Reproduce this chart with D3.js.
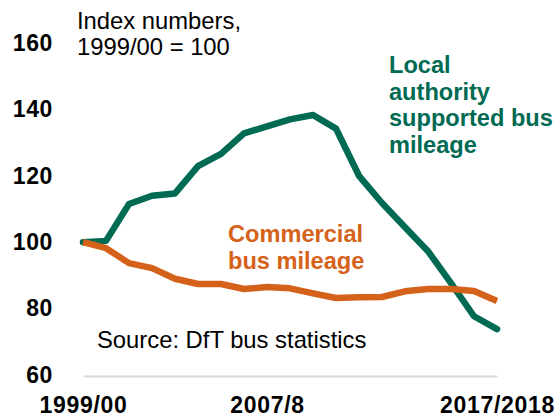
<!DOCTYPE html>
<html>
<head>
<meta charset="utf-8">
<script src="https://cdn.jsdelivr.net/npm/d3@7"></script>
<style>
  body { margin: 0; background: #fff; }
  text { font-family: "Liberation Sans", Arial, sans-serif; }
</style>
</head>
<body>
<svg id="chart" width="557" height="418"></svg>
<script>
// financial years 1999/00 .. 2017/18
var years = ["1999/00", "2000/01", "2001/02", "2002/03", "2003/04", "2004/05", "2005/06",
  "2006/07", "2007/08", "2008/09", "2009/10", "2010/11", "2011/12", "2012/13",
  "2013/14", "2014/15", "2015/16", "2016/17", "2017/18"];

var localSupported = [100, 100.4, 111.5, 114, 114.7, 122.9, 126.6, 132.8, 134.9, 137, 138.3,
  134.2, 120, 111.8, 104.5, 97.3, 87.7, 77.7, 73.8];
var commercial = [100, 98.2, 93.7, 92.2, 89, 87.4, 87.4, 85.9, 86.5, 86.1, 84.6,
  83.2, 83.4, 83.5, 85.2, 85.9, 85.9, 85.3, 82.3];

var yTicks = [60, 80, 100, 120, 140, 160];
var xTickYears = ["1999/00", "2007/08", "2017/18"];
var xTickLabels = ["1999/00", "2007/8", "2017/2018"];

var svg = d3.select("#chart");

var x = d3.scalePoint().domain(years).range([83, 497]);
var y = d3.scaleLinear().domain([60, 160]).range([375, 43]);

// y axis - labels only
var yAxis = svg.append("g")
    .attr("transform", "translate(53,0)")
    .call(d3.axisLeft(y).tickValues(yTicks).tickSize(0).tickPadding(0));
yAxis.select(".domain").remove();
yAxis.selectAll("text")
    .attr("font-size", 23).attr("font-weight", "bold")
    .attr("letter-spacing", 0.6)
    .attr("fill", "#000");

// x axis - grey baseline plus three labels
var xAxis = svg.append("g")
    .attr("transform", "translate(0,376)")
    .call(d3.axisBottom(x).tickValues(xTickYears).tickSize(0).tickSizeOuter(0).tickPadding(21)
      .tickFormat(function (d) { return xTickLabels[xTickYears.indexOf(d)]; }));
xAxis.select(".domain").attr("stroke", "#d9d9d9").attr("stroke-width", 2);
xAxis.selectAll("text")
    .attr("font-size", 23).attr("font-weight", "bold")
    .attr("letter-spacing", 0.7)
    .attr("fill", "#000");

var line = d3.line()
    .x(function (d, i) { return x(years[i]); })
    .y(function (d) { return y(d); });

svg.append("path")
    .datum(localSupported)
    .attr("d", line)
    .attr("fill", "none")
    .attr("stroke", "#006a53")
    .attr("stroke-width", 6.5)
    .attr("stroke-linejoin", "round")
    .attr("stroke-linecap", "round");

svg.append("path")
    .datum(commercial)
    .attr("d", line)
    .attr("fill", "none")
    .attr("stroke", "#d5621a")
    .attr("stroke-width", 6.5)
    .attr("stroke-linejoin", "round");

// text blocks
function block(lines, px, py, opts) {
  var t = svg.append("text")
      .attr("x", px).attr("y", py)
      .attr("font-size", opts.size)
      .attr("font-weight", opts.bold ? "bold" : "normal")
      .attr("fill", opts.color);
  lines.forEach(function (s, i) {
    t.append("tspan").attr("x", px).attr("dy", i === 0 ? 0 : opts.lh).text(s);
  });
}

block(["Index numbers,", "1999/00 = 100"], 77, 29, { color: "#000", lh: 26, size: 23.8 });
block(["Local", "authority", "supported bus", "mileage"], 389, 73, { color: "#006a53", bold: true, lh: 26.5, size: 23.6 });
block(["Commercial", "bus mileage"], 228, 242, { color: "#d5621a", bold: true, lh: 26.5, size: 23.6 });
block(["Source: DfT bus statistics"], 97, 348, { color: "#000", lh: 26, size: 23.8 });
</script>
</body>
</html>
